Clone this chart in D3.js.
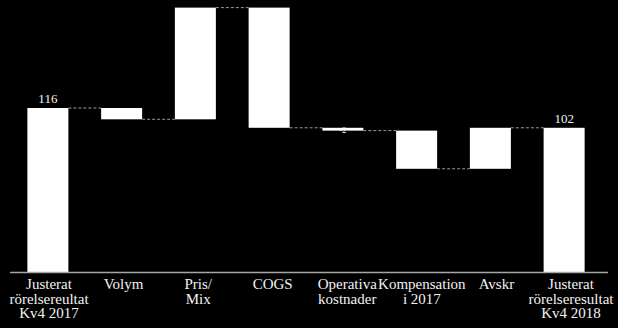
<!DOCTYPE html>
<html>
<head>
<meta charset="utf-8">
<script src="https://cdn.jsdelivr.net/npm/d3@7"></script>
<style>
  html, body { margin: 0; padding: 0; background: #000; }
  svg { display: block; }
  text { font-family: "Liberation Serif", "DejaVu Serif", serif; fill: #f2f2f2; }
</style>
</head>
<body>
<div class="chart"></div>
<script>
// waterfall data
var categories = ["start", "volym", "pris", "cogs", "opex", "komp", "avskr", "end"];
var labels = [
  ["Justerat", "rörelsereultat", "Kv4 2017"],
  ["Volym"],
  ["Pris/", "Mix"],
  ["COGS"],
  ["Operativa", "kostnader"],
  ["Kompensation", "i 2017"],
  ["Avskr"],
  ["Justerat", "rörelseresultat", "Kv4 2018"]
];
var deltas = [116, -8, 79, -85, -2, -27, 29, 102];
var isTotal = [true, false, false, false, false, false, false, true];
var valueLabels = ["116", "", "", "", "-2", "", "", "102"];

var width = 618, height = 328;

// build running totals
var rows = [];
var run = 0;
categories.forEach(function (c, i) {
  var lo, hi;
  if (isTotal[i]) {
    lo = 0; hi = deltas[i]; run = deltas[i];
  } else {
    var prev = run;
    run = run + deltas[i];
    lo = Math.min(prev, run); hi = Math.max(prev, run);
  }
  rows.push({ key: c, lo: lo, hi: hi, end: run, label: valueLabels[i], i: i });
});

var svg = d3.select(".chart").append("svg")
  .attr("width", width).attr("height", height);

var x = d3.scaleBand().domain(categories).range([11, 601]).paddingInner(0.444).paddingOuter(0.222);
var xl = d3.scalePoint().domain(categories).range([49, 571]);
var y = d3.scaleLinear().domain([0, 116]).range([272, 108]);

// connectors
svg.append("g")
  .selectAll("line")
  .data(rows.slice(0, -1))
  .enter()
  .append("line")
  .attr("x1", function (d) { return x(d.key) + x.bandwidth(); })
  .attr("x2", function (d) { return x(categories[d.i + 1]); })
  .attr("y1", function (d) { return y(d.end); })
  .attr("y2", function (d) { return y(d.end); })
  .attr("stroke", "#9a9a9a")
  .attr("stroke-width", 1)
  .attr("stroke-dasharray", "3,2");

// bars
svg.append("g")
  .selectAll("rect")
  .data(rows)
  .enter()
  .append("rect")
  .attr("x", function (d) { return x(d.key); })
  .attr("width", x.bandwidth())
  .attr("y", function (d) { return y(d.hi); })
  .attr("height", function (d) { return Math.max(1.5, y(d.lo) - y(d.hi)); })
  .attr("fill", "#ffffff");

// value labels
svg.append("g")
  .selectAll("text")
  .data(rows.filter(function (d) { return d.label; }))
  .enter()
  .append("text")
  .attr("x", function (d) { return x(d.key) + x.bandwidth() / 2; })
  .attr("y", function (d) { return d.key === "opex" ? y(d.hi) + 5 : y(d.hi) - 5; })
  .attr("text-anchor", "middle")
  .attr("font-size", function (d) { return d.key === "opex" ? 9 : 13; })
  .text(function (d) { return d.label; });

// axis line
svg.append("line")
  .attr("x1", 10).attr("x2", 608)
  .attr("y1", y(0) + 0.5).attr("y2", y(0) + 0.5)
  .attr("stroke", "#a6a6a6")
  .attr("stroke-width", 1.5);

// category labels
var cat = svg.append("g")
  .selectAll("text")
  .data(categories)
  .enter()
  .append("text")
  .attr("text-anchor", "middle")
  .attr("font-size", 15)
  .attr("y", 289);

cat.selectAll("tspan")
  .data(function (d, i) { return labels[i].map(function (t) { return { t: t, k: d }; }); })
  .enter()
  .append("tspan")
  .attr("x", function (d) { return xl(d.k); })
  .attr("dy", function (d, j) { return j === 0 ? 0 : 14.5; })
  .text(function (d) { return d.t; });
</script>
</body>
</html>
